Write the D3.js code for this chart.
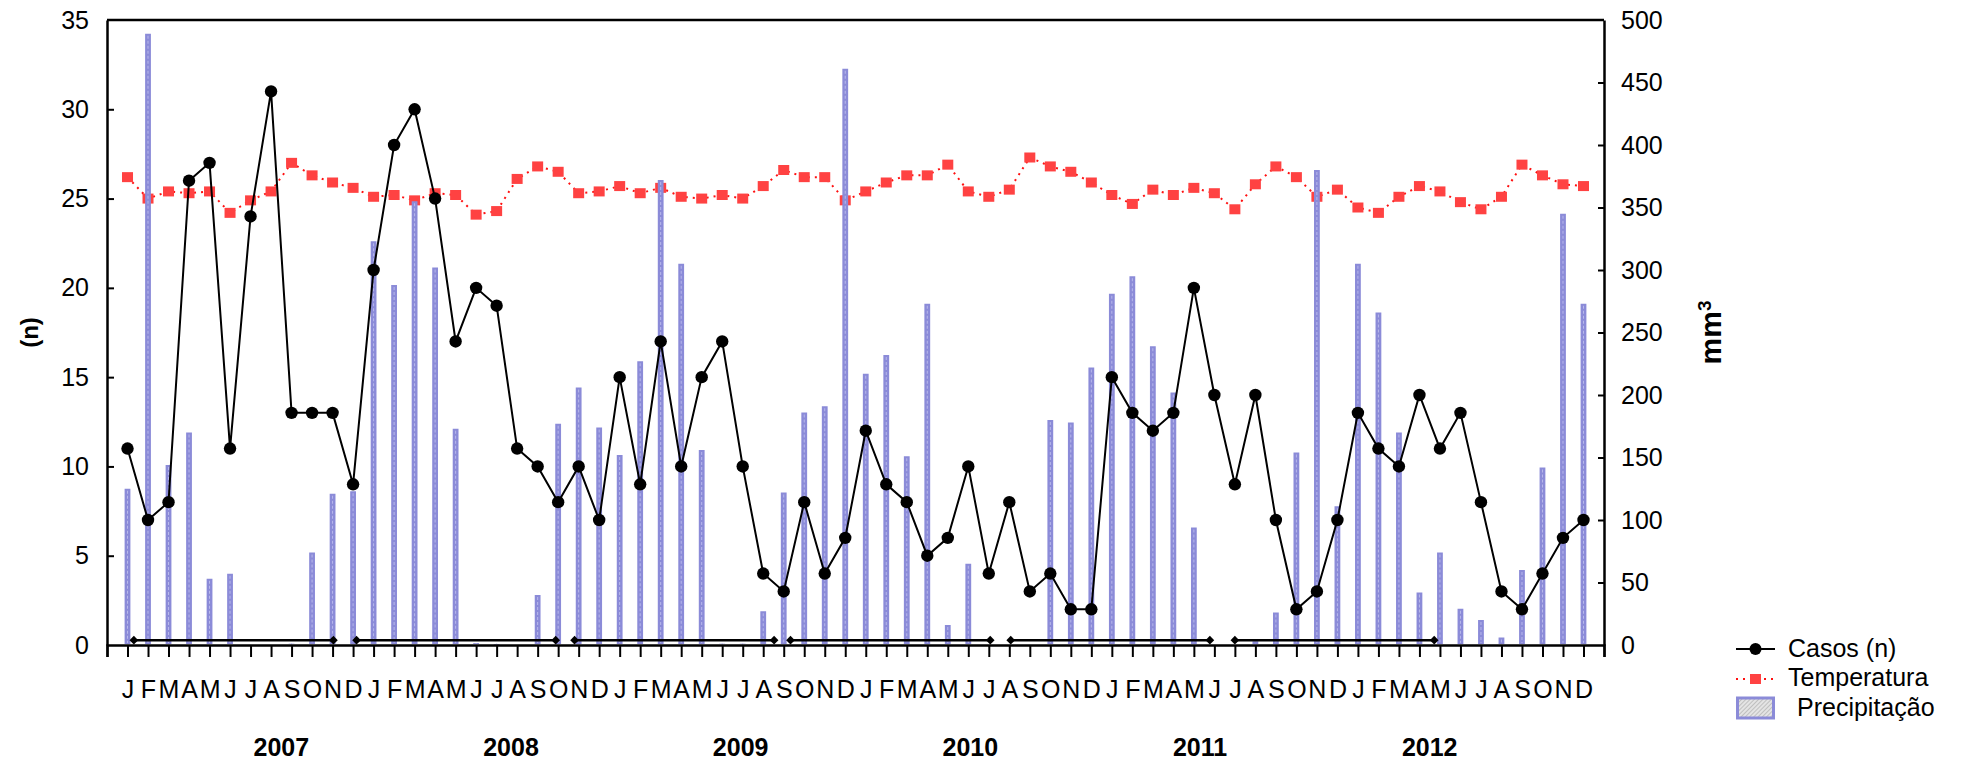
<!DOCTYPE html>
<meta charset="utf-8">
<style>
  body { margin: 0; background: #fff; }
  svg { font-family: "Liberation Sans", Arial, sans-serif; }
  .axis text { font-size: 25px; fill: #000; }
  .axis path, .axis line { stroke: #000; }
</style>
<svg width="1966" height="763"></svg>
<script src="https://cdn.jsdelivr.net/npm/d3@7"></script>
<script>

var months = ["J", "F", "M", "A", "M", "J", "J", "A", "S", "O", "N", "D"];
var years = ["2007", "2008", "2009", "2010", "2011", "2012"];

// monthly series, Jan 2007 .. Dec 2012
var casos = [
  11, 7, 8, 26, 27, 11, 24, 31, 13, 13, 13, 9,
  21, 28, 30, 25, 17, 20, 19, 11, 10, 8, 10, 7,
  15, 9, 17, 10, 15, 17, 10, 4, 3, 8, 4, 6,
  12, 9, 8, 5, 6, 10, 4, 8, 3, 4, 2, 2,
  15, 13, 12, 13, 20, 14, 9, 14, 7, 2, 3, 7,
  13, 11, 10, 14, 11, 13, 8, 3, 2, 4, 6, 7
];
var temperatura = [
  26.2, 25.0, 25.4, 25.3, 25.4, 24.2, 24.9, 25.4, 27.0, 26.3, 25.9, 25.6,
  25.1, 25.2, 24.9, 25.3, 25.2, 24.1, 24.3, 26.1, 26.8, 26.5, 25.3, 25.4,
  25.7, 25.3, 25.6, 25.1, 25.0, 25.2, 25.0, 25.7, 26.6, 26.2, 26.2, 24.9,
  25.4, 25.9, 26.3, 26.3, 26.9, 25.4, 25.1, 25.5, 27.3, 26.8, 26.5, 25.9,
  25.2, 24.7, 25.5, 25.2, 25.6, 25.3, 24.4, 25.8, 26.8, 26.2, 25.1, 25.5,
  24.5, 24.2, 25.1, 25.7, 25.4, 24.8, 24.4, 25.1, 26.9, 26.3, 25.8, 25.7
];
var precipitacao = [
  125, 489, 144, 170, 53, 57, 0, 0, 1, 74, 121, 123,
  323, 288, 355, 302, 173, 1.5, 0.5, 0, 40, 177, 206, 174,
  152, 227, 372, 305, 156, 1, 1, 27, 122, 186, 191, 461,
  217, 232, 151, 273, 16, 65, 0, 0, 0, 180, 178, 222,
  281, 295, 239, 202, 94, 0, 0, 3, 26, 154, 380, 111,
  305, 266, 170, 42, 74, 29, 20, 6, 60, 142, 345, 273
];

// yearly marker segments near zero (in month-slot units)
var periodStart = [1.31, 12.17, 22.8, 33.33, 44.07, 55.0];
var periodEnd = [11.04, 21.88, 32.53, 43.07, 53.78, 64.72];
var periodLevel = 0.27;

var svg = d3.select("svg"),
    margin = {top: 20, right: 362, bottom: 118, left: 107},
    width = +svg.attr("width") - margin.left - margin.right,
    height = +svg.attr("height") - margin.top - margin.bottom,
    g = svg.append("g").attr("transform", "translate(" + margin.left + "," + margin.top + ")");

var x = d3.scaleLinear().domain([0, 73]).range([0, width]);
var yN = d3.scaleLinear().domain([0, 35]).range([height, 0]);
var yP = d3.scaleLinear().domain([0, 500]).range([height, 0]);
var xYear = d3.scalePoint().domain(years).range([x(8.5), x(64.5)]);

var data = casos.map(function(c, i) {
  return {i: i, casos: c, temp: temperatura[i], prec: precipitacao[i]};
});

// hatch for legend swatch
var pat = svg.append("defs").append("pattern")
    .attr("id", "hatch")
    .attr("width", 3).attr("height", 3)
    .attr("patternUnits", "userSpaceOnUse")
    .attr("patternTransform", "rotate(45)");
pat.append("rect").attr("width", 3).attr("height", 3).attr("fill", "#e4e4e4");
pat.append("line").attr("x1", 0).attr("y1", 0).attr("x2", 0).attr("y2", 3)
    .attr("stroke", "#9a9a9a").attr("stroke-width", 1);

// temperature (dotted red + squares)
g.append("path")
    .datum(data)
    .attr("fill", "none")
    .attr("stroke", "#ff1010")
    .attr("stroke-width", 2)
    .attr("stroke-dasharray", "2,5")
    .attr("d", d3.line()
      .x(function(d) { return x(d.i + 1); })
      .y(function(d) { return yN(d.temp); }));

g.selectAll(".sq")
  .data(data)
  .enter().append("rect")
    .attr("class", "sq")
    .attr("x", function(d) { return x(d.i + 1) - 5.5; })
    .attr("y", function(d) { return yN(d.temp) - 5; })
    .attr("width", 11)
    .attr("height", 10)
    .attr("fill", "#ff4242");

// precipitation bars
var bars = g.selectAll(".bar")
  .data(data.filter(function(d) { return d.prec > 0; }))
  .enter().append("g").attr("class", "bar");
bars.append("rect")
    .attr("x", function(d) { return x(d.i + 1) - 2.9; })
    .attr("y", function(d) { return yP(d.prec); })
    .attr("width", 5.8)
    .attr("height", function(d) { return height - 1 - yP(d.prec) > 0 ? height - 1 - yP(d.prec) : 1; })
    .attr("fill", "#8b8bd8");
bars.append("line")
    .attr("x1", function(d) { return x(d.i + 1); })
    .attr("x2", function(d) { return x(d.i + 1); })
    .attr("y1", function(d) { return yP(d.prec) + 2; })
    .attr("y2", height - 2)
    .attr("stroke", "#c4c4f0")
    .attr("stroke-width", 0.8)
    .attr("stroke-dasharray", "3,2");

// yearly segments
g.selectAll(".period")
  .data(periodStart)
  .enter().append("line")
    .attr("class", "period")
    .attr("x1", function(d) { return x(d); })
    .attr("x2", function(d, i) { return x(periodEnd[i]); })
    .attr("y1", yN(periodLevel))
    .attr("y2", yN(periodLevel))
    .attr("stroke", "#000")
    .attr("stroke-width", 2.5);

var diamonds = periodStart.concat(periodEnd);
g.selectAll(".dia")
  .data(diamonds)
  .enter().append("path")
    .attr("class", "dia")
    .attr("d", d3.symbol().type(d3.symbolSquare).size(38))
    .attr("transform", function(d) { return "translate(" + x(d) + "," + yN(periodLevel) + ") rotate(45)"; })
    .attr("fill", "#000");

// cases line + circles
g.append("path")
    .datum(data)
    .attr("fill", "none")
    .attr("stroke", "#000")
    .attr("stroke-width", 2)
    .attr("d", d3.line()
      .x(function(d) { return x(d.i + 1); })
      .y(function(d) { return yN(d.casos); }));

g.selectAll(".dot")
  .data(data)
  .enter().append("circle")
    .attr("class", "dot")
    .attr("cx", function(d) { return x(d.i + 1); })
    .attr("cy", function(d) { return yN(d.casos); })
    .attr("r", 6.2)
    .attr("fill", "#000");

// axes
var leftAxis = g.append("g")
    .attr("class", "axis")
    .call(d3.axisLeft(yN).tickValues(d3.range(0, 36, 5)).tickSizeInner(-7).tickSizeOuter(0).tickPadding(18));

var rightAxis = g.append("g")
    .attr("class", "axis")
    .attr("transform", "translate(" + width + ",0)")
    .call(d3.axisRight(yP).tickValues(d3.range(0, 501, 50)).tickSizeInner(-6).tickSizeOuter(0).tickPadding(17));

var bottomAxis = g.append("g")
    .attr("class", "axis")
    .attr("transform", "translate(0," + height + ")")
    .call(d3.axisBottom(x)
      .tickValues(d3.range(0, 74))
      .tickSize(12)
      .tickPadding(23)
      .tickFormat(function(d) { return d >= 1 && d <= 72 ? months[(d - 1) % 12] : ""; }));

g.selectAll(".axis path").attr("stroke-width", 2.5);
g.selectAll(".axis line").attr("stroke-width", 2);
leftAxis.selectAll(".tick").filter(function(d) { return d === 35 || d === 0; }).select("line").remove();
rightAxis.selectAll(".tick").filter(function(d) { return d === 500 || d === 0; }).select("line").remove();

// top frame
g.append("line")
    .attr("x1", 0).attr("x2", width)
    .attr("y1", 0).attr("y2", 0)
    .attr("stroke", "#000")
    .attr("stroke-width", 2.5);

// year labels
g.selectAll(".year")
  .data(years)
  .enter().append("text")
    .attr("class", "year")
    .attr("x", function(d) { return xYear(d); })
    .attr("y", height + 111)
    .attr("text-anchor", "middle")
    .style("font-size", "25px")
    .style("font-weight", "bold")
    .text(function(d) { return d; });

// axis titles
g.append("text")
    .attr("transform", "translate(-77," + yN(17.5) + ") rotate(-90)")
    .attr("text-anchor", "middle")
    .attr("dy", "0.35em")
    .style("font-size", "24px")
    .style("font-weight", "bold")
    .text("(n)");

var t = g.append("text")
    .attr("transform", "translate(" + (width + 117) + "," + yN(17.5) + ") rotate(-90)")
    .attr("text-anchor", "middle")
    .style("font-size", "30px")
    .style("font-weight", "bold");
t.append("tspan").text("mm");
t.append("tspan").attr("dy", "-0.55em").style("font-size", "19px").text("3");

// legend
var legend = svg.append("g").attr("transform", "translate(1736,0)");
legend.append("line").attr("x1", 0).attr("x2", 39).attr("y1", 649).attr("y2", 649)
    .attr("stroke", "#000").attr("stroke-width", 2);
legend.append("circle").attr("cx", 19.5).attr("cy", 649).attr("r", 6).attr("fill", "#000");
legend.append("text").attr("x", 52).attr("y", 657).style("font-size", "25px").text("Casos (n)");

legend.append("line").attr("x1", 0).attr("x2", 39).attr("y1", 679).attr("y2", 679)
    .attr("stroke", "#ff1010").attr("stroke-width", 2).attr("stroke-dasharray", "2,5");
legend.append("rect").attr("x", 14).attr("y", 674).attr("width", 11).attr("height", 10).attr("fill", "#ff4242");
legend.append("text").attr("x", 52).attr("y", 686).style("font-size", "25px").text("Temperatura");

legend.append("rect").attr("x", 1.5).attr("y", 698).attr("width", 36).attr("height", 20)
    .attr("fill", "url(#hatch)").attr("stroke", "#8b8bd8").attr("stroke-width", 3);
legend.append("text").attr("x", 61).attr("y", 716).style("font-size", "25px").text("Precipitação");

</script>
